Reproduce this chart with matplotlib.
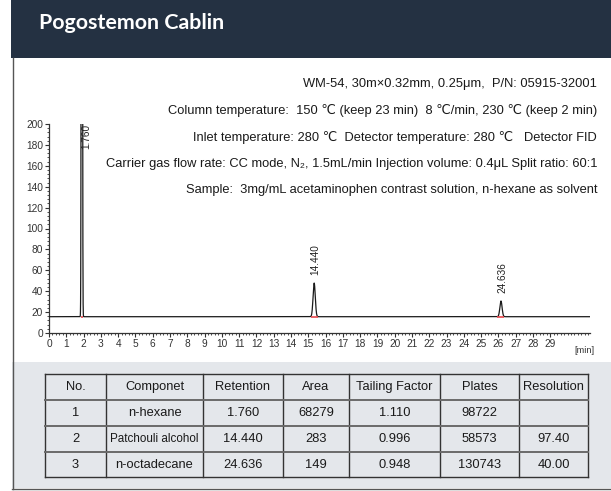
import numpy as np
import matplotlib
matplotlib.use("Agg")
import matplotlib.pyplot as plt
from matplotlib.ticker import MultipleLocator, FixedLocator

plt.rcParams['font.family'] = ['Liberation Sans', 'DejaVu Sans']

# ---------------- data ----------------
title = "Pogostemon Cablin"

conditions = [
    "WM-54, 30m\u00d70.32mm, 0.25\u03bcm,  P/N: 05915-32001",
    "Column temperature:  150 \u2103 (keep 23 min)  8 \u2103/min, 230 \u2103 (keep 2 min)",
    "Inlet temperature: 280 \u2103  Detector temperature: 280 \u2103   Detector FID",
    "Carrier gas flow rate: CC mode, N\u2082, 1.5mL/min Injection volume: 0.4\u03bcL Split ratio: 60:1",
    "Sample:  3mg/mL acetaminophen contrast solution, n-hexane as solvent",
]

retention = [1.760, 14.440, 24.636]          # min
apex_signal = [2000.0, 47.8, 30.6]           # peak 1 is off scale
peak_sigma = [0.022, 0.06, 0.06]             # min
baseline_level = 15.6

# instrument time-axis calibration (axis reading = slope * t + offset)
axis_slope = 1.06
axis_offset = 0.035
axis_ticks = list(range(0, 30))
axis_end = 31.3

y_ticks = list(range(0, 201, 20))

table_header = ["No.", "Componet", "Retention", "Area", "Tailing Factor", "Plates", "Resolution"]
table_no = ["1", "2", "3"]
table_component = ["n-hexane", "Patchouli alcohol", "n-octadecane"]
table_retention = ["1.760", "14.440", "24.636"]
table_area = ["68279", "283", "149"]
table_tailing = ["1.110", "0.996", "0.948"]
table_plates = ["98722", "58573", "130743"]
table_resolution = ["", "97.40", "40.00"]

# ---------------- layout (pixels) ----------------
W, H = 611, 491
fig = plt.figure(figsize=(W / 100, H / 100), dpi=100)


def rect(l, t, r, b):
    return [l / W, 1 - b / H, (r - l) / W, (b - t) / H]


bg = fig.add_axes([0, 0, 1, 1], zorder=0)
bg.set_xlim(0, W)
bg.set_ylim(H, 0)
bg.axis('off')

# header band
bg.add_patch(plt.Rectangle((11, 0), W - 11, 58, color='#243142', lw=0))
bg.text(39, 23, title, color='white', fontsize=15.4, fontweight='bold',
        family=['Lato', 'DejaVu Sans'], va='center', ha='left')

# table background and frame
bg.add_patch(plt.Rectangle((12, 362), W - 12, 126, color='#e4e7eb', lw=0))
bg.plot([12.5, 12.5], [58, 488.5], color='#555555', lw=1)
bg.plot([12, W], [488.5, 488.5], color='#555555', lw=1)

# condition lines
line_y = [84, 110.5, 137, 163.5, 190]
for y, s in zip(line_y, conditions):
    bg.text(597, y, s, ha='right', va='center', fontsize=9.3, color='#1a1a1a')

# table
col_edges = [45, 106, 203, 283, 349, 440, 519, 588]
row_edges = [374, 400, 426, 452, 477]
rows = [table_header] + [list(r) for r in zip(table_no, table_component, table_retention,
                                                 table_area, table_tailing, table_plates,
                                                 table_resolution)]
for x in col_edges:
    bg.plot([x, x], [row_edges[0], row_edges[-1]], color='#333333', lw=1)
for k, y in enumerate(row_edges):
    inner = 0 < k < len(row_edges) - 1
    bg.plot([col_edges[0], col_edges[-1]], [y, y],
            color='#6a6a6a' if inner else '#333333', lw=1.4 if inner else 1)
for i, row in enumerate(rows):
    yc = (row_edges[i] + row_edges[i + 1]) / 2
    for j, s in enumerate(row):
        xc = (col_edges[j] + col_edges[j + 1]) / 2
        fs = 9.3
        if s == "Patchouli alcohol":
            fs = 8.4
        bg.text(xc, yc, s, ha='center', va='center', fontsize=fs, color='#1a1a1a')

# ---------------- chromatogram ----------------
def to_time(reading):
    return (np.asarray(reading, dtype=float) - axis_offset) / axis_slope


ax = fig.add_axes(rect(49, 124, 590, 333), zorder=1)
ax.patch.set_alpha(0)
t_lo, t_hi = float(to_time(0)), float(to_time(axis_end))
t = np.linspace(t_lo, t_hi, 40000)
signal = np.full_like(t, baseline_level)
for rt, a, s in zip(retention, apex_signal, peak_sigma):
    signal += (a - baseline_level) * np.exp(-0.5 * ((t - rt) / s) ** 2)
ax.plot(t, signal, color='#1a1a1a', lw=0.9, zorder=3)

# integration marks under each peak
for rt, s in zip(retention, peak_sigma):
    ax.plot([rt - 3.2 * s, rt + 3.2 * s], [baseline_level - 0.4] * 2,
            color='#e8454a', lw=1.2, zorder=4, solid_capstyle='butt')

# retention-time labels
for rt, a in zip(retention, apex_signal):
    lab = f"{rt:.3f}"
    if a > 200:
        ax.annotate(lab, xy=(rt, 200), xytext=(4.5, 0), textcoords='offset pixels',
                    rotation=90, ha='center', va='top', fontsize=7.2, color='#222222')
    else:
        ax.annotate(lab, xy=(rt, a), xytext=(1.5, 8), textcoords='offset pixels',
                    rotation=90, ha='center', va='bottom', fontsize=7.2, color='#222222')

ax.set_xlim(t_lo, t_hi)
ax.set_ylim(0, 200)
for side in ('top', 'right'):
    ax.spines[side].set_visible(False)
for side in ('left', 'bottom'):
    ax.spines[side].set_color('#333333')
    ax.spines[side].set_linewidth(0.9)

ax.xaxis.set_major_locator(FixedLocator(to_time(axis_ticks)))
ax.set_xticklabels([str(v) for v in axis_ticks])
ax.xaxis.set_minor_locator(FixedLocator(to_time(np.arange(0, axis_end, 0.2))))
ax.set_yticks(y_ticks)
ax.yaxis.set_minor_locator(MultipleLocator(4))
ax.tick_params(axis='both', which='major', length=3, width=0.8, color='#333333',
               labelsize=7.3, labelcolor='#333333', pad=1.2)
ax.tick_params(axis='both', which='minor', length=1.6, width=0.6, color='#333333')
ax.text(to_time(30.95), -12, "[min]", ha='center', va='top', fontsize=6.6,
        color='#333333', clip_on=False)

fig.savefig("out.png", dpi=100)
